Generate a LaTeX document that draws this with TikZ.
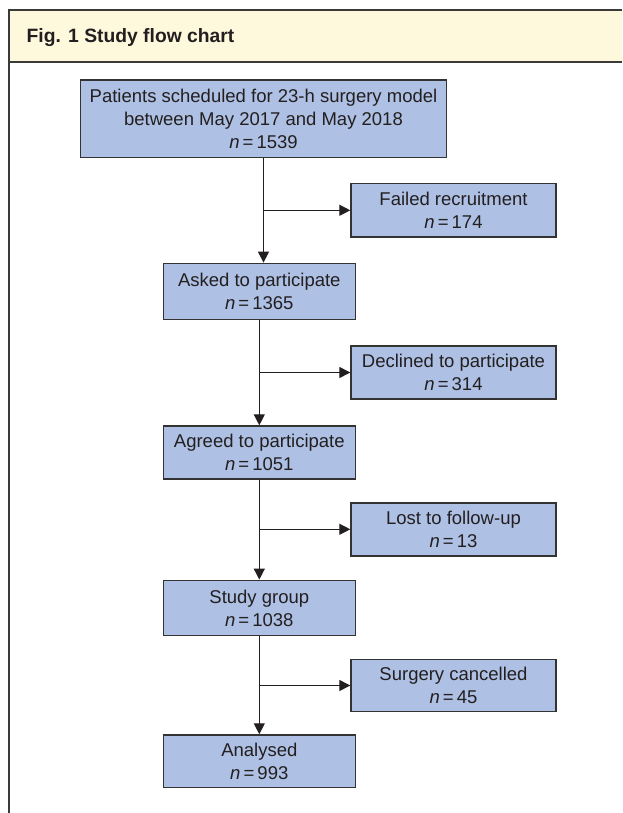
\documentclass[tikz,border=0pt]{standalone}
\usepackage{fontspec}
\setmainfont{Liberation Sans}
\usetikzlibrary{arrows.meta}
\definecolor{boxfill}{HTML}{AEC0E3}
\definecolor{hdrfill}{HTML}{FEF9DC}
\definecolor{txt}{HTML}{231F20}
\definecolor{edge}{HTML}{333333}
\definecolor{frame}{HTML}{3A3A3A}
\newcommand{\nval}[1]{{\itshape n}\,=\,#1}
\begin{document}
\begin{tikzpicture}[x=1pt,y=-1pt,
  fbox/.style={draw=edge, line width=1.4pt, fill=boxfill, align=center, text=txt,
    font=\fontsize{18.5}{22.8}\selectfont, inner sep=0pt},
  conn/.style={line width=1.3pt, draw=txt, -{Triangle[length=11pt,width=11pt]}},
  framestyle/.style={draw=frame, line width=2pt}]
\useasboundingbox (0,0) rectangle (622,813);
\fill[white] (0,0) rectangle (622,813);
% header
\fill[hdrfill] (8.5,10) rectangle (622,62.3);
\draw[framestyle] (8.5,10) -- (622,10);
\draw[framestyle] (8.5,62.3) -- (622,62.3);
\draw[framestyle] (8.5,9) -- (8.5,813);
\node[anchor=base west, inner sep=0pt, text=txt, font=\fontsize{19.3}{22}\selectfont\bfseries] (title) at (26.5,42.7) {Fig. 1 Study flow chart};
% boxes
\node[fbox, minimum width=366pt, minimum height=77.3pt] (b1) at (263.5,118.7)
  {Patients scheduled for 23-h surgery model\\between May 2017 and May 2018\\\nval{1539}};
\node[fbox, minimum width=205pt, minimum height=53.4pt] (failed) at (453.5,210.3)
  {Failed recruitment\\\nval{174}};
\node[fbox, minimum width=192pt, minimum height=56pt] (asked) at (259.3,291.3)
  {Asked to participate\\\nval{1365}};
\node[fbox, minimum width=205pt, minimum height=53pt] (declined) at (453.5,372.5)
  {Declined to participate\\\nval{314}};
\node[fbox, minimum width=192pt, minimum height=53pt] (agreed) at (259.3,452.5)
  {Agreed to participate\\\nval{1051}};
\node[fbox, minimum width=205pt, minimum height=53pt] (lost) at (453.5,529.3)
  {Lost to follow-up\\\nval{13}};
\node[fbox, minimum width=192pt, minimum height=55.4pt] (study) at (259.3,608)
  {Study group\\\nval{1038}};
\node[fbox, minimum width=205pt, minimum height=52.4pt] (surgery) at (453.5,685.5)
  {Surgery cancelled\\\nval{45}};
\node[fbox, minimum width=192pt, minimum height=52.7pt] (analysed) at (259.3,761.3)
  {Analysed\\\nval{993}};
% connectors
\draw[conn] (b1.south) -- (b1.south |- asked.north);
\coordinate (j1) at (b1.south |- failed.west);
\draw[conn] (j1) -- (failed.west);
\draw[conn] (asked.south) -- (agreed.north);
\coordinate (j2) at (asked.south |- declined.west);
\draw[conn] (j2) -- (declined.west);
\draw[conn] (agreed.south) -- (study.north);
\coordinate (j3) at (agreed.south |- lost.west);
\draw[conn] (j3) -- (lost.west);
\draw[conn] (study.south) -- (analysed.north);
\coordinate (j4) at (study.south |- surgery.west);
\draw[conn] (j4) -- (surgery.west);
\end{tikzpicture}
\end{document}
